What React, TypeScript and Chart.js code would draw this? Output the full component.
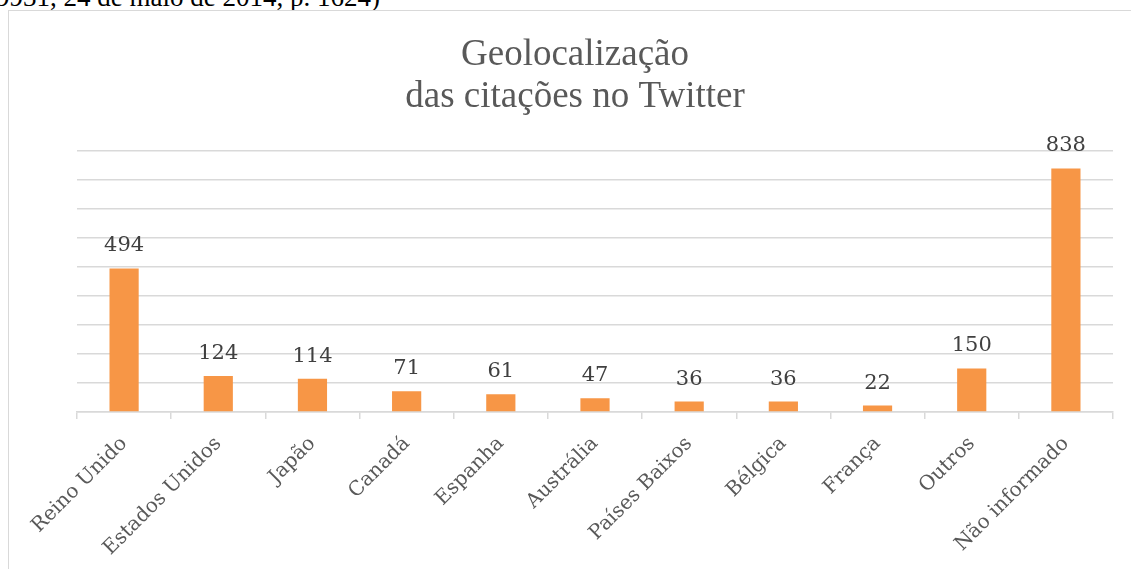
import React, { useEffect, useRef } from "react";
import { Chart, registerables } from "chart.js";

Chart.register(...registerables);

const categories = [
  "Reino Unido",
  "Estados Unidos",
  "Japão",
  "Canadá",
  "Espanha",
  "Austrália",
  "Países Baixos",
  "Bélgica",
  "França",
  "Outros",
  "Não informado",
];
const values = [494, 124, 114, 71, 61, 47, 36, 36, 22, 150, 838];
const titleLines = ["Geolocalização", "das citações no Twitter"];
const topText = "9931, 24 de maio de 2014, p. 1624)";
const yMax = 900;
const yStep = 100;

const valueLabels = {
  id: "valueLabels",
  afterDatasetsDraw(chart: any) {
    const ctx = chart.ctx;
    const meta = chart.getDatasetMeta(0);
    ctx.save();
    ctx.font = "21px 'DejaVu Serif'";
    ctx.fillStyle = "#404040";
    ctx.textAlign = "center";
    ctx.textBaseline = "alphabetic";
    meta.data.forEach((bar: any, i: number) => {
      ctx.fillText(String(values[i]), bar.x, bar.y - 17);
    });
    ctx.restore();
  },
};

export default function App() {
  const ref = useRef<HTMLCanvasElement>(null);
  useEffect(() => {
    document.body.style.overflow = "hidden";
    const chart = new Chart(ref.current!, {
      type: "bar",
      data: {
        labels: categories,
        datasets: [
          {
            data: values,
            backgroundColor: "#f79646",
            barPercentage: 0.31,
            categoryPercentage: 1,
          },
        ],
      },
      plugins: [valueLabels],
      options: {
        responsive: false,
        animation: false,
        layout: { padding: { left: 28, right: 18, top: 0, bottom: 0 } },
        plugins: {
          legend: { display: false },
          tooltip: { enabled: false },
          title: {
            display: true,
            text: titleLines,
            color: "#595959",
            font: { family: "'Liberation Serif', 'Times New Roman', serif", size: 37, weight: "normal", lineHeight: 1.14 },
            padding: { top: 23, bottom: 32 },
          },
        },
        scales: {
          x: {
            grid: {
              display: true,
              offset: true,
              drawOnChartArea: false,
              drawTicks: true,
              tickLength: 7,
              color: "#d9d9d9",
              lineWidth: 1.5,
            },
            border: { display: true, color: "#d9d9d9", width: 1.5 },
            ticks: {
              autoSkip: false,
              minRotation: 45,
              maxRotation: 45,
              color: "#595959",
              font: { family: "'DejaVu Serif'", size: 20 },
              padding: 13,
            },
            afterFit: (s: any) => {
              s.height = 157;
            },
          },
          y: {
            min: 0,
            max: yMax,
            ticks: { display: false, stepSize: yStep },
            grid: { color: "#d9d9d9", lineWidth: 1.5, drawTicks: false },
            border: { display: false },
            afterFit: (s: any) => {
              s.width = 40;
            },
          },
        },
      },
    });
    return () => chart.destroy();
  }, []);

  return (
    <div>
      <div
        style={{
          position: "absolute",
          left: -4,
          top: -18.5,
          fontFamily: "'Liberation Serif'",
          fontSize: 27,
          lineHeight: "normal",
          color: "#000",
          whiteSpace: "nowrap",
        }}
      >
        {topText}
      </div>
      <div
        style={{
          position: "absolute",
          left: 8,
          top: 10,
          width: 1123,
          height: 559,
          boxSizing: "border-box",
          borderLeft: "1px solid #d9d9d9",
          borderTop: "1px solid #d9d9d9",
          background: "#fff",
        }}
      >
        <canvas ref={ref} width={1122} height={558} style={{ display: "block", width: 1122, height: 558 }} />
      </div>
    </div>
  );
}
